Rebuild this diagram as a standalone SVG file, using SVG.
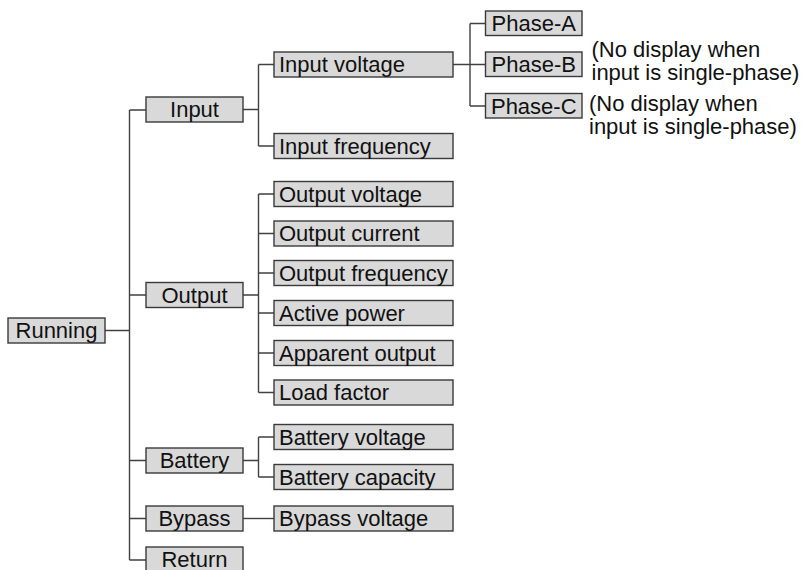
<svg xmlns="http://www.w3.org/2000/svg" width="803" height="570" viewBox="0 0 803 570">
<style>
.box{fill:#d9d9d9;stroke:#3a3a3a;stroke-width:1.4}
.t{font-family:"Liberation Sans",Arial,sans-serif;font-size:22px;fill:#111}
.c{text-anchor:middle}
.conn{fill:none;stroke:#404040;stroke-width:1.4}
</style>
<rect width="803" height="570" fill="#ffffff"/>
<g id="connectors" class="conn">
<path d="M105 330.5H129.5M129.5 110V560M129.5 110H146M129.5 295H146M129.5 460.5H146M129.5 518.5H146M129.5 560H146"/>
<path d="M243 109.5H258.5M258.5 64.5V146M258.5 64.5H274M258.5 146H274"/>
<path d="M453 64.5H485.5M470 23.5V106M470 23.5H485.5M470 106H485.5"/>
<path d="M243 295H258.5M258.5 194V392.5M258.5 194H274M258.5 233.5H274M258.5 273H274M258.5 313H274M258.5 353H274M258.5 392.5H274"/>
<path d="M243 460.5H258.5M258.5 437V477M258.5 437H274M258.5 477H274"/>
<path d="M243 518.5H274"/>
</g>
<g id="running"><rect class="box" x="8" y="318" width="97" height="25"/><text class="t c" x="56.5" y="337.5">Running</text></g>
<g id="input"><rect class="box" x="146" y="97" width="97" height="25"/><text class="t c" x="194.5" y="117">Input</text></g>
<g id="output"><rect class="box" x="146" y="282.5" width="97" height="25"/><text class="t c" x="194.5" y="302.5">Output</text></g>
<g id="battery"><rect class="box" x="146" y="448" width="97" height="25"/><text class="t c" x="194.5" y="468">Battery</text></g>
<g id="bypass"><rect class="box" x="146" y="506" width="97" height="25"/><text class="t c" x="194.5" y="526">Bypass</text></g>
<g id="return"><rect class="box" x="146" y="547" width="97" height="25"/><text class="t c" x="194.5" y="567">Return</text></g>
<g id="input-voltage"><rect class="box" x="274" y="52" width="179" height="25"/><text class="t" x="279" y="72">Input voltage</text></g>
<g id="input-frequency"><rect class="box" x="274" y="133.5" width="179" height="25"/><text class="t" x="279" y="153.5">Input frequency</text></g>
<g id="output-voltage"><rect class="box" x="274" y="181.5" width="179" height="25"/><text class="t" x="279" y="201.5">Output voltage</text></g>
<g id="output-current"><rect class="box" x="274" y="221" width="179" height="25"/><text class="t" x="279" y="241">Output current</text></g>
<g id="output-frequency"><rect class="box" x="274" y="260.5" width="179" height="25"/><text class="t" x="279" y="280.5">Output frequency</text></g>
<g id="active-power"><rect class="box" x="274" y="300.5" width="179" height="25"/><text class="t" x="279" y="320.5">Active power</text></g>
<g id="apparent-output"><rect class="box" x="274" y="340.5" width="179" height="25"/><text class="t" x="279" y="360.5">Apparent output</text></g>
<g id="load-factor"><rect class="box" x="274" y="380" width="179" height="25"/><text class="t" x="279" y="400">Load factor</text></g>
<g id="battery-voltage"><rect class="box" x="274" y="424.5" width="179" height="25"/><text class="t" x="279" y="444.5">Battery voltage</text></g>
<g id="battery-capacity"><rect class="box" x="274" y="464.5" width="179" height="25"/><text class="t" x="279" y="484.5">Battery capacity</text></g>
<g id="bypass-voltage"><rect class="box" x="274" y="506" width="179" height="25"/><text class="t" x="279" y="526">Bypass voltage</text></g>
<g id="phase-a"><rect class="box" x="485.5" y="11" width="96.5" height="24.5"/><text class="t c" x="533.75" y="31">Phase-A</text></g>
<g id="phase-b"><rect class="box" x="485.5" y="52" width="96.5" height="24.5"/><text class="t c" x="533.75" y="72">Phase-B</text></g>
<g id="phase-c"><rect class="box" x="485.5" y="93.5" width="96.5" height="24.5"/><text class="t c" x="533.75" y="113.5">Phase-C</text></g>
<g id="note-b"><text class="t" x="591.5" y="56.5">(No display when</text><text class="t" x="591.5" y="79.5">input is single-phase)</text></g>
<g id="note-c"><text class="t" x="589" y="110.5">(No display when</text><text class="t" x="589" y="133.5">input is single-phase)</text></g>
</svg>
